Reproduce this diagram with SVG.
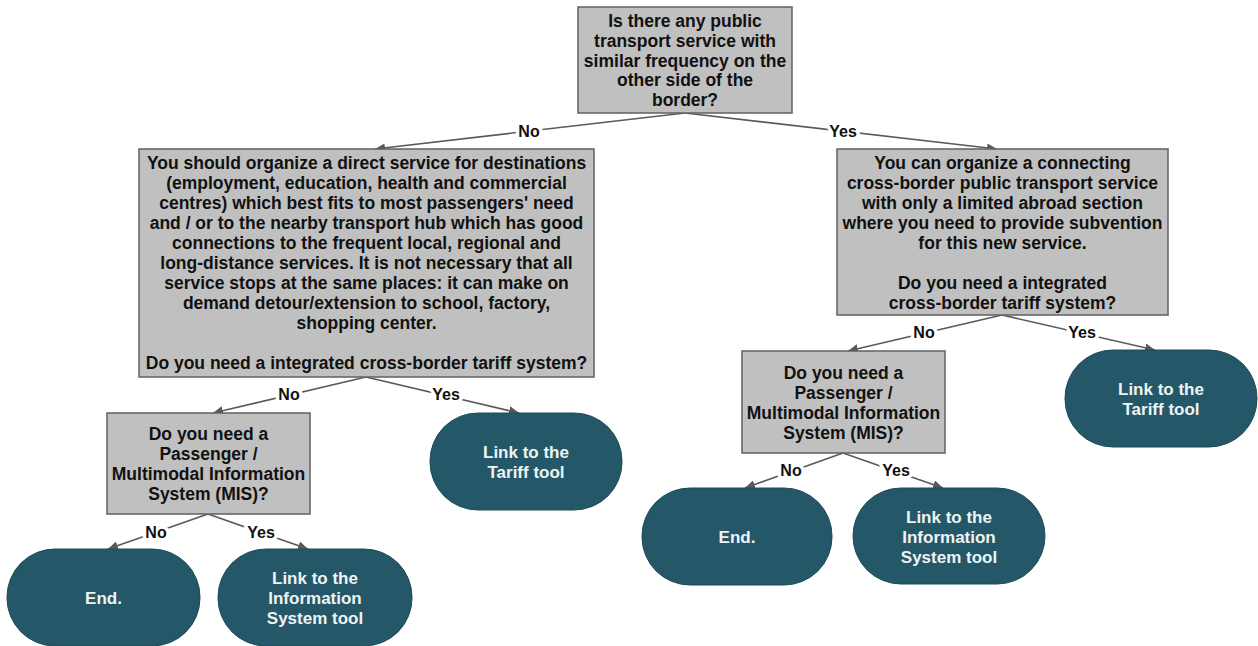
<svg xmlns="http://www.w3.org/2000/svg" width="1258" height="646" viewBox="0 0 1258 646">
<defs>
<marker id="arr" markerWidth="11" markerHeight="9" refX="10" refY="4.5" orient="auto" markerUnits="userSpaceOnUse">
<path d="M0,0 L10,4.5 L0,9 z" fill="#595959"/>
</marker>
<style>
.box{fill:#c0c0c0;stroke:#606060;stroke-width:1.5}
.term{fill:#245869;stroke:#1d4a58;stroke-width:1}
.bt{font-family:"Liberation Sans",Arial,sans-serif;font-weight:bold;font-size:17.5px;fill:#111;text-anchor:middle}
.tt{font-family:"Liberation Sans",Arial,sans-serif;font-weight:bold;font-size:17px;fill:#eef4f4;text-anchor:middle}
.cn{stroke:#5a5a5a;stroke-width:1.6;fill:none;marker-end:url(#arr)}
.lb{font-family:"Liberation Sans",Arial,sans-serif;font-weight:bold;font-size:16px;fill:#111;text-anchor:middle;stroke:#fff;stroke-width:7;paint-order:stroke;stroke-linejoin:round}
</style>
</defs>
<rect width="1258" height="646" fill="#fff"/>

<g id="connectors">
<line class="cn" x1="685" y1="113" x2="375" y2="149"/>
<line class="cn" x1="685" y1="113" x2="997" y2="149"/>
<line class="cn" x1="366" y1="377" x2="213" y2="413"/>
<line class="cn" x1="366" y1="377" x2="519" y2="413"/>
<line class="cn" x1="208" y1="514" x2="108" y2="549"/>
<line class="cn" x1="208" y1="514" x2="308" y2="549"/>
<line class="cn" x1="1002" y1="315" x2="848" y2="351"/>
<line class="cn" x1="1002" y1="315" x2="1155" y2="350"/>
<line class="cn" x1="843" y1="453" x2="745" y2="488"/>
<line class="cn" x1="843" y1="453" x2="943" y2="488"/>
<text class="lb" x="529" y="137">No</text>
<text class="lb" x="843" y="137">Yes</text>
<text class="lb" x="289" y="400">No</text>
<text class="lb" x="446" y="400">Yes</text>
<text class="lb" x="156" y="538">No</text>
<text class="lb" x="261" y="538">Yes</text>
<text class="lb" x="924" y="338">No</text>
<text class="lb" x="1082" y="338">Yes</text>
<text class="lb" x="791" y="476">No</text>
<text class="lb" x="896" y="476">Yes</text>
</g>

<g id="q1">
<rect class="box" x="578" y="7" width="214" height="106"/>
<text class="bt"><tspan x="685" y="27">Is there any public</tspan><tspan x="685" y="46.7">transport service with</tspan><tspan x="685" y="66.5">similar frequency on the</tspan><tspan x="685" y="86.2">other side of the</tspan><tspan x="685" y="106">border?</tspan></text>
</g>

<g id="q2left">
<rect class="box" x="139" y="149" width="455" height="228"/>
<text class="bt"><tspan x="366.5" y="169">You should organize a direct service for destinations</tspan><tspan x="366.5" y="189">(employment, education, health and commercial</tspan><tspan x="366.5" y="209">centres) which best fits to most passengers' need</tspan><tspan x="366.5" y="229">and / or to the nearby transport hub which has good</tspan><tspan x="366.5" y="249">connections to the frequent local, regional and</tspan><tspan x="366.5" y="269">long-distance services. It is not necessary that all</tspan><tspan x="366.5" y="289">service stops at the same places: it can make on</tspan><tspan x="366.5" y="309">demand detour/extension to school, factory,</tspan><tspan x="366.5" y="329">shopping center.</tspan><tspan x="366.5" y="369">Do you need a integrated cross-border tariff system?</tspan></text>
</g>

<g id="q2right">
<rect class="box" x="837" y="149" width="331" height="166"/>
<text class="bt"><tspan x="1002.5" y="169">You can organize a connecting</tspan><tspan x="1002.5" y="189">cross-border public transport service</tspan><tspan x="1002.5" y="209">with only a limited abroad section</tspan><tspan x="1002.5" y="229">where you need to provide subvention</tspan><tspan x="1002.5" y="249">for this new service.</tspan><tspan x="1002.5" y="289">Do you need a integrated</tspan><tspan x="1002.5" y="309">cross-border tariff system?</tspan></text>
</g>

<g id="q3left">
<rect class="box" x="107" y="413" width="203" height="101"/>
<text class="bt"><tspan x="208.5" y="440">Do you need a</tspan><tspan x="208.5" y="460">Passenger /</tspan><tspan x="208.5" y="480">Multimodal Information</tspan><tspan x="208.5" y="500">System (MIS)?</tspan></text>
</g>

<g id="q3right">
<rect class="box" x="742" y="351" width="203" height="102"/>
<text class="bt"><tspan x="843.5" y="379">Do you need a</tspan><tspan x="843.5" y="399">Passenger /</tspan><tspan x="843.5" y="419">Multimodal Information</tspan><tspan x="843.5" y="439">System (MIS)?</tspan></text>
</g>

<g id="tariffLeft">
<rect class="term" x="430" y="413" width="192" height="97" rx="48" ry="48"/>
<text class="tt"><tspan x="526" y="457.5">Link to the</tspan><tspan x="526" y="477.5">Tariff tool</tspan></text>
</g>

<g id="endLeft">
<rect class="term" x="7" y="549" width="193" height="97" rx="48" ry="48"/>
<text class="tt" x="103.5" y="603.5">End.</text>
</g>

<g id="infoLeft">
<rect class="term" x="218" y="549" width="194" height="97" rx="48" ry="48"/>
<text class="tt"><tspan x="315" y="584">Link to the</tspan><tspan x="315" y="604">Information</tspan><tspan x="315" y="624">System tool</tspan></text>
</g>

<g id="tariffRight">
<rect class="term" x="1065" y="350" width="192" height="97" rx="48" ry="48"/>
<text class="tt"><tspan x="1161" y="394.5">Link to the</tspan><tspan x="1161" y="414.5">Tariff tool</tspan></text>
</g>

<g id="endRight">
<rect class="term" x="642" y="488" width="190" height="97" rx="48" ry="48"/>
<text class="tt" x="737" y="542.5">End.</text>
</g>

<g id="infoRight">
<rect class="term" x="853" y="488" width="192" height="96" rx="48" ry="48"/>
<text class="tt"><tspan x="949" y="522.5">Link to the</tspan><tspan x="949" y="542.5">Information</tspan><tspan x="949" y="562.5">System tool</tspan></text>
</g>
</svg>
